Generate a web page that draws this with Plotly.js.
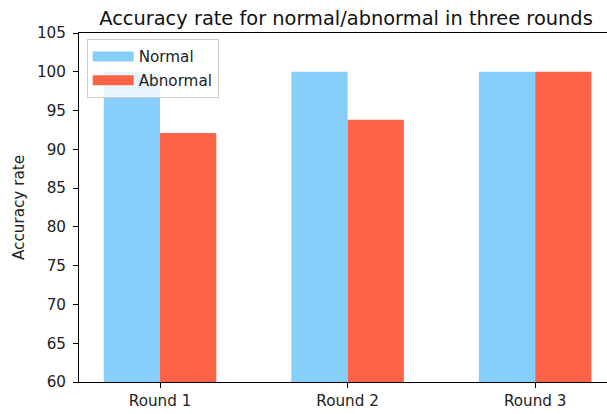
<!DOCTYPE html>
<html>
<head>
<meta charset="utf-8">
<script src="https://cdn.plot.ly/plotly-3.0.1.min.js"></script>
<style>html,body{margin:0;padding:0;background:#fff;}#chart{width:607px;height:414px;}</style>
</head>
<body>
<div id="chart"></div>
<script>
const categories = ["Round 1", "Round 2", "Round 3"];
const normalValues = [100, 100, 100];
const abnormalValues = [92.1, 93.8, 100];
const yTicks = [60, 65, 70, 75, 80, 85, 90, 95, 100, 105];

const font = "DejaVu Sans, sans-serif";
const fs = 15.2;
const traces = [
  {type: "bar", name: "Normal", x: categories, y: normalValues, width: 0.3, offset: -0.3,
   marker: {color: "#87CEFA", line: {width: 0}}, showlegend: false},
  {type: "bar", name: "Abnormal", x: categories, y: abnormalValues, width: 0.3, offset: 0,
   marker: {color: "#FF6347", line: {width: 0}}, showlegend: false},
  {type: "scatter", mode: "lines", name: "Normal", x: [null], y: [null], legendgroup: "n",
   line: {color: "#87CEFA", width: 11}, hoverinfo: "skip"},
  {type: "scatter", mode: "lines", name: "Abnormal", x: [null], y: [null], legendgroup: "a",
   line: {color: "#FF6347", width: 11}, hoverinfo: "skip"}
];

const layout = {
  width: 607, height: 414,
  margin: {l: 79, r: 0, t: 33, b: 32, pad: 0},
  paper_bgcolor: "#fff", plot_bgcolor: "#fff",
  font: {family: font, size: fs, color: "#222"},
  barmode: "overlay",
  title: {text: "Accuracy rate for normal/abnormal in three rounds",
          font: {family: font, size: 19.4, color: "#111"},
          xref: "container", x: 346 / 607, xanchor: "center",
          yref: "container", y: 1 - 18 / 414, yanchor: "middle"},
  xaxis: {type: "category", range: [-0.432, 2.383], showgrid: false, zeroline: false,
          showline: true, mirror: true, linecolor: "#000", linewidth: 1,
          ticks: "outside", ticklen: 5, tickcolor: "#000", tickwidth: 1,
          tickfont: {family: font, size: fs, color: "#222"}},
  yaxis: {range: [60, 105], tickvals: yTicks, showgrid: false, zeroline: false,
          showline: true, linecolor: "#000", linewidth: 1,
          ticks: "outside", ticklen: 5, tickcolor: "#000", tickwidth: 1,
          ticklabelstandoff: 4,
          tickfont: {family: font, size: fs, color: "#222"},
          automargin: false,
          title: {text: "Accuracy rate", font: {family: font, size: fs, color: "#222"}, standoff: 8}},
  showlegend: true,
  legend: {x: (86.7 - 79) / 528, y: (381.5 - 39) / 348.5, xanchor: "left", yanchor: "top",
           bgcolor: "rgba(255,255,255,0.8)", bordercolor: "#cccccc", borderwidth: 1,
           font: {family: font, size: fs, color: "#222"}, itemwidth: 41,
           tracegroupgap: 1}
};

Plotly.newPlot("chart", traces, layout, {displayModeBar: false, staticPlot: true});
</script>
</body>
</html>
